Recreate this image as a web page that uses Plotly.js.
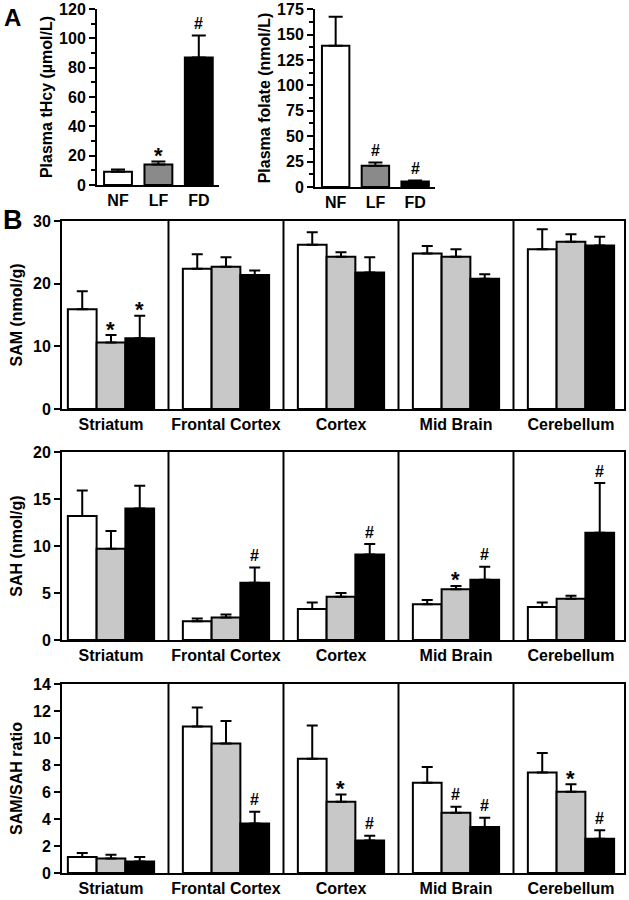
<!DOCTYPE html>
<html>
<head>
<meta charset="utf-8">
<script src="https://cdn.plot.ly/plotly-3.0.1.min.js"></script>
<style>html,body{margin:0;padding:0;background:#fff;}#chart{width:629px;height:900px;}</style>
</head>
<body>
<div id="chart"></div>
<script>
// ---------- Data ----------
const dietGroups = ['NF', 'LF', 'FD'];
const tHcyMean = [9, 14, 87];
const tHcyErr = [1.5, 2, 15];
const tHcySig = ['', '*', '#'];
const folateMean = [139, 21, 5.5];
const folateErr = [28.5, 3, 1];
const folateSig = ['', '#', '#'];

const regions = ['Striatum', 'Frontal Cortex', 'Cortex', 'Mid Brain', 'Cerebellum'];
const samNF = [15.9, 22.4, 26.2, 24.8, 25.5];
const samNFErr = [2.9, 2.3, 2.0, 1.2, 3.2];
const samLF = [10.6, 22.7, 24.3, 24.3, 26.7];
const samLFErr = [1.2, 1.5, 0.7, 1.2, 1.2];
const samFD = [11.3, 21.4, 21.8, 20.8, 26.1];
const samFDErr = [3.6, 0.7, 2.4, 0.7, 1.4];
const samNFSig = ['', '', '', '', ''];
const samLFSig = ['*', '', '', '', ''];
const samFDSig = ['*', '', '', '', ''];

const sahNF = [13.2, 2.0, 3.3, 3.8, 3.5];
const sahNFErr = [2.7, 0.3, 0.7, 0.45, 0.5];
const sahLF = [9.7, 2.4, 4.6, 5.4, 4.4];
const sahLFErr = [1.9, 0.3, 0.4, 0.35, 0.3];
const sahFD = [14.0, 6.1, 9.1, 6.4, 11.4];
const sahFDErr = [2.4, 1.6, 1.1, 1.4, 5.3];
const sahNFSig = ['', '', '', '', ''];
const sahLFSig = ['', '', '', '*', ''];
const sahFDSig = ['', '#', '#', '#', '#'];

const ratioNF = [1.19, 10.86, 8.47, 6.69, 7.45];
const ratioNFErr = [0.3, 1.4, 2.46, 1.16, 1.44];
const ratioLF = [1.08, 9.6, 5.28, 4.47, 6.02];
const ratioLFErr = [0.28, 1.66, 0.54, 0.44, 0.55];
const ratioFD = [0.86, 3.67, 2.41, 3.41, 2.54];
const ratioFDErr = [0.33, 0.87, 0.35, 0.69, 0.62];
const ratioNFSig = ['', '', '', '', ''];
const ratioLFSig = ['', '', '*', '#', '*'];
const ratioFDSig = ['', '#', '#', '#', '#'];

// ---------- Styling ----------
const FONT = 'Liberation Sans, Arial, Helvetica, sans-serif';
const colorsA = ['#ffffff', '#8a8a8a', '#000000'];
const colorsB = ['#ffffff', '#c8c8c8', '#000000'];
const W = 629, H = 900;
const px = v => v / W;
const py = v => 1 - v / H;

const traces = [];
const annotations = [];
const shapes = [];

function sigAnn(xref, yref, x, y, s) {
  if (!s) return;
  const star = s === '*';
  annotations.push({
    xref: xref, yref: yref, x: x, y: y, text: s, showarrow: false,
    yanchor: 'middle', yshift: star ? 6 : 12,
    font: {family: FONT, size: star ? 22 : 16, color: '#000', weight: 'bold'}
  });
}

// Panel A
function panelA(idx, means, errs, sigs) {
  const xa = 'x' + idx, ya = 'y' + idx;
  traces.push({
    type: 'bar', x: dietGroups, y: means, xaxis: xa, yaxis: ya,
    width: 0.69,
    marker: {color: colorsA, line: {color: '#000', width: 2}},
    error_y: {type: 'data', symmetric: false, array: errs, arrayminus: errs.map(() => 0),
      color: '#000', thickness: 2, width: 7},
    hoverinfo: 'x+y', showlegend: false
  });
  means.forEach((m, i) => sigAnn(xa, ya, i, m + errs[i], sigs[i]));
}
panelA(1, tHcyMean, tHcyErr, tHcySig);
panelA(2, folateMean, folateErr, folateSig);

// Panel B
const bw = 0.25;
const offsets = [-0.375, -0.125, 0.125];
function panelB(idx, series, errsList, sigsList) {
  const xa = 'x' + idx, ya = 'y' + idx;
  series.forEach((vals, j) => {
    traces.push({
      type: 'bar', x: regions, y: vals, xaxis: xa, yaxis: ya,
      width: bw, offset: offsets[j],
      marker: {color: colorsB[j], line: {color: '#000', width: 2}},
      error_y: {type: 'data', symmetric: false, array: errsList[j], arrayminus: errsList[j].map(() => 0),
        color: '#000', thickness: 2, width: 5.5},
      name: dietGroups[j], showlegend: false
    });
    vals.forEach((v, i) => sigAnn(xa, ya, i + offsets[j] + bw / 2, v + errsList[j][i], sigsList[j][i]));
  });
  for (let k = 0; k < regions.length - 1; k++) {
    shapes.push({type: 'line', xref: xa, yref: ya + ' domain', x0: k + 0.5, x1: k + 0.5, y0: 0, y1: 1,
      line: {color: '#000', width: 2}});
  }
}
panelB(3, [samNF, samLF, samFD], [samNFErr, samLFErr, samFDErr], [samNFSig, samLFSig, samFDSig]);
panelB(4, [sahNF, sahLF, sahFD], [sahNFErr, sahLFErr, sahFDErr], [sahNFSig, sahLFSig, sahFDSig]);
panelB(5, [ratioNF, ratioLF, ratioFD], [ratioNFErr, ratioLFErr, ratioFDErr], [ratioNFSig, ratioLFSig, ratioFDSig]);

const tickFont = {family: FONT, size: 16, color: '#000', weight: 'bold'};
const titleFont = {family: FONT, size: 16, color: '#000', weight: 'bold'};

function xA(dom) {
  return {domain: dom, type: 'category', range: [-0.52, 2.5], showline: true, linewidth: 2, linecolor: '#000',
    ticks: '', tickfont: tickFont, showgrid: false, zeroline: false, fixedrange: true};
}
function yA(dom, rng, dtick, title, minor) {
  return {domain: dom, range: rng, dtick: dtick, tick0: 0, showline: true, linewidth: 2, linecolor: '#000',
    ticks: 'outside', ticklen: 6, tickwidth: 2, tickcolor: '#000', tickfont: tickFont,
    ticklabeloverflow: 'allow',
    showgrid: false, zeroline: false,
    minor: minor ? {dtick: minor, ticks: 'outside', ticklen: 4, tickwidth: 2, tickcolor: '#000', showgrid: false} : undefined,
    title: {text: title, font: titleFont, standoff: 2}};
}
function xB(dom) {
  return {domain: dom, type: 'category', range: [-0.426, 4.461], showline: true, mirror: true, linewidth: 2,
    linecolor: '#000', ticks: '', tickfont: tickFont, showgrid: false, zeroline: false};
}
function yB(dom, rng, dtick, title) {
  return {domain: dom, range: rng, dtick: dtick, tick0: 0, showline: true, mirror: true, linewidth: 2,
    linecolor: '#000', ticks: 'outside', ticklen: 6, tickwidth: 2, tickcolor: '#000', tickfont: tickFont,
    showgrid: false, zeroline: false, title: {text: title, font: titleFont, standoff: 6}};
}

annotations.push({xref: 'paper', yref: 'paper', x: px(2), y: py(2), xanchor: 'left', yanchor: 'top',
  text: 'A', showarrow: false, font: {family: FONT, size: 24, color: '#000', weight: 'bold'}});
annotations.push({xref: 'paper', yref: 'paper', x: px(1), y: py(203), xanchor: 'left', yanchor: 'top',
  text: 'B', showarrow: false, font: {family: FONT, size: 27, color: '#000', weight: 'bold'}});

const layout = {
  width: W, height: H, margin: {l: 0, r: 0, t: 0, b: 0},
  paper_bgcolor: '#fff', plot_bgcolor: 'rgba(0,0,0,0)',
  barmode: 'overlay', showlegend: false,
  font: {family: FONT, color: '#000'},
  xaxis: Object.assign(xA([px(97), px(219)]), {anchor: 'y'}),
  yaxis: Object.assign(yA([py(185), py(9)], [0, 120.05], 20, 'Plasma tHcy (µmol/L)', 10), {anchor: 'x'}),
  xaxis2: Object.assign(xA([px(315), px(435)]), {anchor: 'y2'}),
  yaxis2: Object.assign(yA([py(187), py(9)], [0, 175.1], 25, 'Plasma folate (nmol/L)', 12.5), {anchor: 'x2'}),
  xaxis3: Object.assign(xB([px(62), px(624)]), {anchor: 'y3'}),
  yaxis3: Object.assign(yB([py(409), py(221)], [0, 30], 10, 'SAM (nmol/g)'), {anchor: 'x3'}),
  xaxis4: Object.assign(xB([px(62), px(624)]), {anchor: 'y4'}),
  yaxis4: Object.assign(yB([py(640), py(452)], [0, 20], 5, 'SAH (nmol/g)'), {anchor: 'x4'}),
  xaxis5: Object.assign(xB([px(62), px(624)]), {anchor: 'y5'}),
  yaxis5: Object.assign(yB([py(873), py(684)], [0, 14], 2, 'SAM/SAH ratio'), {anchor: 'x5'}),
  annotations: annotations,
  shapes: shapes
};

Plotly.newPlot('chart', traces, layout, {displayModeBar: false, staticPlot: true});
</script>
</body>
</html>
